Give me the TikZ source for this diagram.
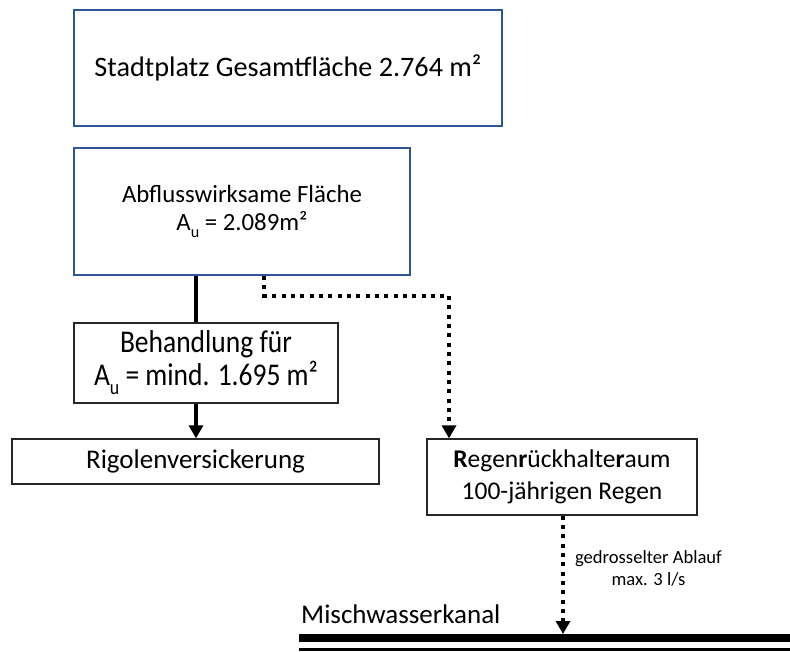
\documentclass[tikz,border=0pt]{standalone}
\usepackage{fontspec}
\setmainfont{Carlito}
\usepackage{graphicx}
\usetikzlibrary{arrows.meta}
\definecolor{boxblue}{RGB}{47,85,151}
\newcommand\lowidx[1]{\raisebox{-0.28em}{\scalebox{0.65}{#1}}}
\newcommand\fs[2]{\fontsize{#1}{#2}\selectfont}
\begin{document}
\begin{tikzpicture}[x=1pt,y=-1pt,
  bluebox/.style={draw=boxblue,line width=1.6pt,inner sep=0pt,align=center},
  blackbox/.style={draw=black!85,line width=1.3pt,inner sep=0pt,align=center},
  solidline/.style={line width=4.3pt},
  dotline/.style={line width=4pt,dash pattern=on 4pt off 5.33pt},
  tip/.style={-{Triangle[width=14pt,length=13pt]}}]
\useasboundingbox (0,0) rectangle (790,651);
\node[bluebox,minimum width=428pt,minimum height=116pt,font=\fs{28.2}{34}] (total) at (288,68) {Stadtplatz Gesamtfläche 2.764 m²};
\node[bluebox,minimum width=336pt,minimum height=127pt,font=\fs{24.8}{28.5}] (abfl) at (242,211.5) {Abflusswirksame Fläche\\A\lowidx{u} = 2.089m²};
\node[blackbox,minimum width=264pt,minimum height=80pt,font=\fs{27.5}{33}] (beh) at (206,363) {\scalebox{1}[1.15]{Behandlung für}\\\scalebox{1}[1.15]{A\lowidx{u} = mind. 1.695 m²}};
\node[blackbox,minimum width=367pt,minimum height=45pt,font=\fs{27}{33}] (rig) at (195.5,461.5) {Rigolenversickerung};
\node[blackbox,minimum width=270pt,minimum height=76pt,font=\fs{25.5}{32}] (regen) at (562,477) {\textbf{R}egen\textbf{r}ückhalte\textbf{r}aum\\100-jährigen Regen};
\node[anchor=base west,inner sep=0pt,font=\fs{27}{33}] (kanal) at (301,623) {Mischwasserkanal};
\node[anchor=base,inner sep=0pt,align=center,font=\fs{18.6}{22}] (lbl) at (648.5,585) {gedrosselter Ablauf\\max. 3 l/s};
% canal lines
\coordinate (k1a) at (299,638);
\coordinate (k1b) at (790,638);
\coordinate (k2a) at (299,649.5);
\coordinate (k2b) at (790,649.5);
\coordinate (kanaltop) at (563,634);
\draw[line width=8pt] (k1a) -- (k1b);
\draw[line width=2.5pt] (k2a) -- (k2b);
% connectors
\draw[solidline] (abfl.south -| 196,0) -- (beh.north -| 196,0);
\draw[solidline,tip] (beh.south -| 196,0) -- (rig.north -| 196,0);
\coordinate (c1) at (264,295.5);
\coordinate (c2) at (449,295.5);
\draw[dotline,tip] (abfl.south -| c1) -- (c1) -- (c2) -- (regen.north -| c2);
\draw[dotline,tip] (regen.south -| kanaltop) -- (kanaltop);
\end{tikzpicture}
\end{document}
